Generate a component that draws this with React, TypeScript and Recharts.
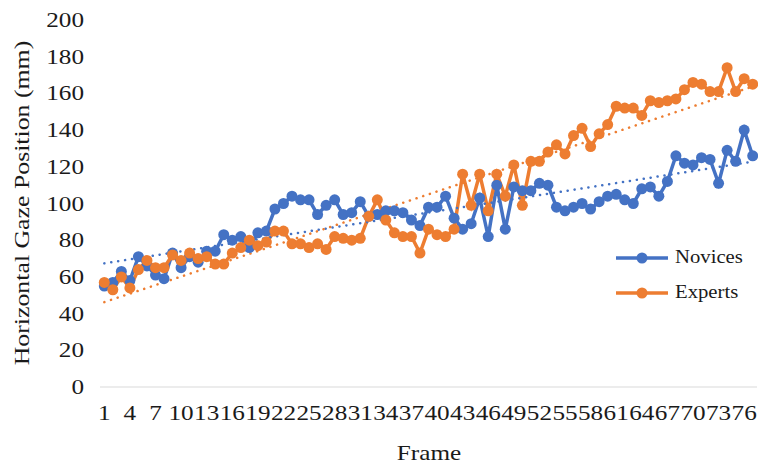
import { LineChart, Line, XAxis, YAxis, Label } from 'recharts';

const frames = [
  '1', '2', '3', '4', '5', '6', '7', '8', '9', '10', '11', '12', '13', '14', '15', '16',
  '17', '18', '19', '20', '21', '22', '23', '24', '25', '26', '27', '28', '29', '30', '31',
  '32', '33', '34', '35', '36', '37', '38', '39', '40', '41', '42', '43', '44', '45', '46',
  '47', '48', '49', '50', '51', '52', '53', '54', '55', '56', '57', '58', '59', '60', '61',
  '62', '63', '64', '65', '66', '67', '68', '69', '70', '71', '72', '73', '74', '75', '76', '77',
];

const novices = [
  55, 57, 63, 58, 71, 66, 61, 59, 73, 65, 71, 68, 74, 74, 83, 80,
  82, 76, 84, 85, 97, 100, 104, 102, 102, 94, 99, 102, 94, 95, 101,
  93, 94, 96, 96, 95, 91, 88, 98, 98, 104, 92, 86, 89, 103, 82,
  110, 86, 109, 107, 107, 111, 110, 98, 96, 98, 100, 97, 101, 104, 105,
  102, 100, 108, 109, 104, 112, 126, 122, 121, 125, 124, 111, 129, 123, 140, 126,
];

const experts = [
  57, 53, 60, 54, 64, 69, 65, 65, 72, 69, 73, 70, 71, 67, 67, 73,
  76, 80, 77, 79, 85, 85, 78, 78, 76, 78, 75, 82, 81, 80, 81,
  93, 102, 91, 84, 82, 82, 73, 86, 83, 82, 86, 116, 99, 116, 96,
  116, 104, 121, 99, 123, 123, 128, 132, 127, 137, 141, 131, 138, 143, 153,
  152, 152, 148, 156, 155, 156, 157, 162, 166, 165, 161, 161, 174, 161, 168, 165,
];

const yTicks = [0, 20, 40, 60, 80, 100, 120, 140, 160, 180, 200];

const BLUE = '#4472C4';
const ORANGE = '#ED7D31';
const FONT = 'Liberation Serif';
const INK = '#1a1a1a';
// the source text is drawn a bit wide, stretched along the reading direction
const STRETCH = 1.26;

// least-squares trendline, like Excel's linear trendline
function trend(values: number[]) {
  const n = values.length;
  const mx = (n + 1) / 2;
  const my = values.reduce((a, b) => a + b, 0) / n;
  let sxy = 0;
  let sxx = 0;
  values.forEach((v, i) => {
    sxy += (i + 1 - mx) * (v - my);
    sxx += (i + 1 - mx) * (i + 1 - mx);
  });
  const slope = sxy / sxx;
  return values.map((_, i) => my + slope * (i + 1 - mx));
}

const novicesTrend = trend(novices);
const expertsTrend = trend(experts);

const data = frames.map((frame, i) => ({
  frame,
  novices: novices[i],
  experts: experts[i],
  novicesTrend: novicesTrend[i],
  expertsTrend: expertsTrend[i],
}));

function XTick({ x, y, payload }: any) {
  return (
    <text
      transform={`translate(${x},${y + 33}) scale(${STRETCH},1)`}
      textAnchor="middle"
      fontFamily={FONT}
      fontSize={20}
      fill={INK}
    >
      {payload.value}
    </text>
  );
}

function YTick({ x, y, payload }: any) {
  return (
    <text
      transform={`translate(${x},${y + 7}) scale(${STRETCH},1)`}
      textAnchor="end"
      fontFamily={FONT}
      fontSize={20}
      fill={INK}
    >
      {payload.value}
    </text>
  );
}

function LegendRow({ color, label }: { color: string; label: string }) {
  return (
    <div style={{ display: 'flex', alignItems: 'center', height: 35 }}>
      <svg width={52} height={14} style={{ marginRight: 7 }}>
        <line x1={0} y1={7} x2={52} y2={7} stroke={color} strokeWidth={3.5} />
        <circle cx={26} cy={7} r={5.5} fill={color} />
      </svg>
      <span
        style={{
          fontFamily: FONT,
          fontSize: 18,
          color: INK,
          display: 'inline-block',
          transform: 'scaleX(1.15)',
          transformOrigin: 'left center',
        }}
      >
        {label}
      </span>
    </div>
  );
}

export default function App() {
  return (
    <div style={{ position: 'absolute', left: 0, top: 0, width: 758, height: 463, background: '#fff' }}>
      <LineChart width={758} height={463} data={data} margin={{ top: 20, right: 1, left: 0, bottom: 0 }}>
        <XAxis
          dataKey="frame"
          interval={2}
          tickLine={false}
          tickSize={0}
          tickMargin={0}
          stroke="#D9D9D9"
          tick={<XTick />}
          height={76}
          padding={{ left: 4.3, right: 4.3 }}
        >
          <Label
            content={() => (
              <text
                transform={`translate(429,460) scale(${STRETCH},1)`}
                textAnchor="middle"
                fontFamily={FONT}
                fontSize={20}
                fill={INK}
              >
                Frame
              </text>
            )}
          />
        </XAxis>
        <YAxis
          domain={[0, 200]}
          ticks={yTicks}
          axisLine={false}
          tickLine={false}
          tickSize={0}
          tickMargin={16}
          width={100}
          tick={<YTick />}
        >
          <Label
            content={() => (
              <text
                transform={`translate(22,203) rotate(-90) scale(1.29,1)`}
                textAnchor="middle"
                dominantBaseline="central"
                fontFamily={FONT}
                fontSize={20}
                fill={INK}
              >
                Horizontal Gaze Position (mm)
              </text>
            )}
          />
        </YAxis>
        <Line
          dataKey="novices"
          stroke={BLUE}
          strokeWidth={3.5}
          dot={{ r: 5.5, fill: BLUE, stroke: BLUE, strokeWidth: 0 }}
          isAnimationActive={false}
        />
        <Line
          dataKey="experts"
          stroke={ORANGE}
          strokeWidth={3.5}
          dot={{ r: 5.5, fill: ORANGE, stroke: ORANGE, strokeWidth: 0 }}
          isAnimationActive={false}
        />
        <Line
          dataKey="novicesTrend"
          stroke={BLUE}
          strokeWidth={2.5}
          strokeDasharray="0.1 6.9"
          strokeLinecap="round"
          dot={false}
          isAnimationActive={false}
        />
        <Line
          dataKey="expertsTrend"
          stroke={ORANGE}
          strokeWidth={2.5}
          strokeDasharray="0.1 6.9"
          strokeLinecap="round"
          dot={false}
          isAnimationActive={false}
        />
      </LineChart>
      <div style={{ position: 'absolute', left: 616, top: 240 }}>
        <LegendRow color={BLUE} label="Novices" />
        <LegendRow color={ORANGE} label="Experts" />
      </div>
    </div>
  );
}
